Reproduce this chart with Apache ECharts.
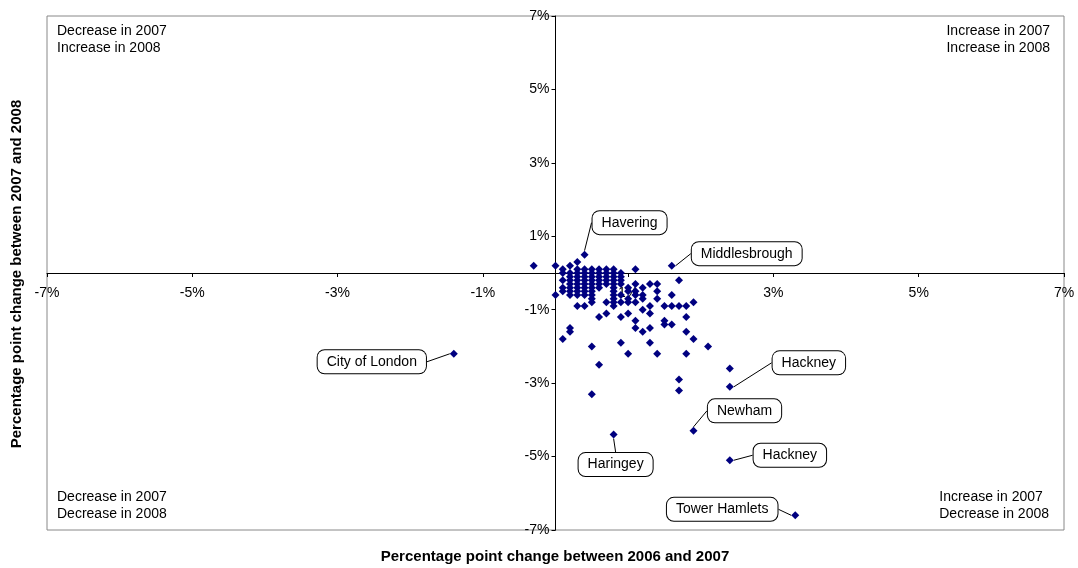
<!DOCTYPE html>
<html>
<head>
<meta charset="utf-8">
<script src="https://cdn.jsdelivr.net/npm/echarts@6/dist/echarts.min.js"></script>
<style>
html,body{margin:0;padding:0;background:#fff;}
#chart{width:1078px;height:568px;}
</style>
</head>
<body>
<div id="chart"></div>
<script>
// change 2006->2007 (x) and 2007->2008 (y), percentage points
var xVals = [
  0.3,
  -0.3, 0.0, 0.2,
  0.1, 0.3, 0.4, 0.5, 0.6, 0.7, 0.8, 1.1,
  0.1, 0.2, 0.3, 0.4, 0.5, 0.6, 0.7, 0.8, 0.9,
  0.2, 0.3, 0.4, 0.5, 0.6, 0.7, 0.8, 0.9,
  0.1, 0.2, 0.3, 0.4, 0.5, 0.6, 0.7, 0.8, 0.9, 1.7,
  0.2, 0.3, 0.4, 0.5, 0.6, 0.7, 0.8, 0.9, 1.1, 1.3, 1.4,
  0.1, 0.2, 0.3, 0.4, 0.5, 0.6, 0.8, 1.0, 1.2,
  0.1, 0.2, 0.3, 0.4, 0.5, 0.8, 1.0, 1.1, 1.4,
  0.0, 0.2, 0.3, 0.4, 0.5, 0.8, 0.9, 1.1, 1.2, 1.6,
  0.5, 0.8, 1.0, 1.2, 1.4,
  0.5, 0.7, 0.8, 0.9, 1.0, 1.1, 1.9,
  0.3, 0.4, 0.8, 1.3, 1.5, 1.6, 1.7, 1.8,
  1.2,
  0.7, 1.0, 1.3,
  0.6, 0.9, 1.8,
  1.1, 1.5,
  1.5, 1.6,
  0.2, 1.1, 1.3,
  0.2, 1.2, 1.8,
  0.1, 1.9,
  0.9, 1.3,
  0.5, 2.1,
  1.0, 1.4, 1.8,
  0.6, 2.4, 1.7, 1.7, 0.5
];
var yVals = [
  0.3,
  0.2, 0.2, 0.2,
  0.1, 0.1, 0.1, 0.1, 0.1, 0.1, 0.1, 0.1,
  0.0, 0.0, 0.0, 0.0, 0.0, 0.0, 0.0, 0.0, 0.0,
  -0.1, -0.1, -0.1, -0.1, -0.1, -0.1, -0.1, -0.1,
  -0.2, -0.2, -0.2, -0.2, -0.2, -0.2, -0.2, -0.2, -0.2, -0.2,
  -0.3, -0.3, -0.3, -0.3, -0.3, -0.3, -0.3, -0.3, -0.3, -0.3, -0.3,
  -0.4, -0.4, -0.4, -0.4, -0.4, -0.4, -0.4, -0.4, -0.4,
  -0.5, -0.5, -0.5, -0.5, -0.5, -0.5, -0.5, -0.5, -0.5,
  -0.6, -0.6, -0.6, -0.6, -0.6, -0.6, -0.6, -0.6, -0.6, -0.6,
  -0.7, -0.7, -0.7, -0.7, -0.7,
  -0.8, -0.8, -0.8, -0.8, -0.8, -0.8, -0.8,
  -0.9, -0.9, -0.9, -0.9, -0.9, -0.9, -0.9, -0.9,
  -1.0,
  -1.1, -1.1, -1.1,
  -1.2, -1.2, -1.2,
  -1.3, -1.3,
  -1.4, -1.4,
  -1.5, -1.5, -1.5,
  -1.6, -1.6, -1.6,
  -1.8, -1.8,
  -1.9, -1.9,
  -2.0, -2.0,
  -2.2, -2.2, -2.2,
  -2.5, -2.6, -2.9, -3.2, -3.3
];
// named local authorities
var calloutNames = ['Havering', 'Middlesbrough', 'City of London', 'Hackney', 'Newham', 'Haringey', 'Hackney', 'Tower Hamlets'];
var calloutX = [0.4, 1.6, -1.4, 2.4, 1.9, 0.8, 2.4, 3.3];
var calloutY = [0.5, 0.2, -2.2, -3.1, -4.3, -4.4, -5.1, -6.6];
var tickLabels = ['-7%', '-5%', '-3%', '-1%', '1%', '3%', '5%', '7%'];
var quadrantText = [
  'Decrease in 2007\nIncrease in 2008',
  'Increase in 2007\nIncrease in 2008',
  'Decrease in 2007\nDecrease in 2008',
  'Increase in 2007\nDecrease in 2008'
];

// callout box offsets in px, same order as calloutNames (style only)
var calloutOffset = [[45, -32], [75, -12], [-82, 8], [79, -24], [51, -20], [2, 30], [60, -5], [-73, -6]];

var font = 'Liberation Sans, Arial, sans-serif';
var W = 1078, H = 568;
var gridL = 47, gridR = 14, gridT = 16, gridB = 38;
var myChart = echarts.init(document.getElementById('chart'));

var points = xVals.map(function (x, i) { return [x, yVals[i]]; });
var named = calloutX.map(function (x, i) { return { name: calloutNames[i], value: [x, calloutY[i]] }; });

function tickText(v) {
  var s = Math.round(v) + '%';
  return tickLabels.indexOf(s) >= 0 ? s : '';
}

// axes cross at zero: shift them from the grid edge to the middle
var gridW = W - gridL - gridR, gridH = H - gridT - gridB;

var markStyle = { color: '#000080', opacity: 1 };

var option = {
  backgroundColor: '#fff',
  animation: false,
  grid: {
    left: gridL, right: gridR, top: gridT, bottom: gridB,
    show: true, borderColor: '#888', borderWidth: 1
  },
  xAxis: {
    type: 'value', min: -7, max: 7, interval: 2,
    position: 'bottom', offset: -gridH / 2,
    axisLine: { onZero: false, lineStyle: { color: '#000', width: 1 } },
    axisTick: { show: true, length: 4, lineStyle: { color: '#000' } },
    axisLabel: { formatter: tickText, color: '#000', fontSize: 14, fontFamily: font, margin: 13, showMinLabel: true, showMaxLabel: true },
    splitLine: { show: false }
  },
  yAxis: {
    type: 'value', min: -7, max: 7, interval: 2,
    position: 'left', offset: -gridW / 2,
    axisLine: { onZero: false, lineStyle: { color: '#000', width: 1 } },
    axisTick: { show: true, length: 4, lineStyle: { color: '#000' } },
    axisLabel: { formatter: tickText, color: '#000', fontSize: 14, fontFamily: font, margin: 6, showMinLabel: true, showMaxLabel: true },
    splitLine: { show: false }
  },
  series: [{
    type: 'scatter',
    symbol: 'diamond',
    symbolSize: 8,
    itemStyle: markStyle,
    data: points,
    z: 5
  }, {
    type: 'scatter',
    symbol: 'diamond',
    symbolSize: 8,
    itemStyle: markStyle,
    label: {
      show: true,
      position: 'inside',
      formatter: '{b}',
      color: '#000',
      fontSize: 14,
      fontFamily: font,
      backgroundColor: '#fff',
      borderColor: '#000',
      borderWidth: 1,
      borderRadius: 7,
      padding: [5, 9, 4, 9]
    },
    labelLine: { show: true, lineStyle: { color: '#000', width: 1 } },
    labelLayout: function (params) {
      var off = calloutOffset[params.dataIndex];
      return { dx: off[0], dy: off[1], hideOverlap: false };
    },
    data: named,
    z: 6
  }],
  graphic: [
    { type: 'text', left: 57, top: 23, style: { text: quadrantText[0], font: '14px ' + font, fill: '#000', lineHeight: 17 } },
    { type: 'text', right: 28, top: 23, style: { text: quadrantText[1], font: '14px ' + font, fill: '#000', lineHeight: 17, align: 'right' } },
    { type: 'text', left: 57, top: 489, style: { text: quadrantText[2], font: '14px ' + font, fill: '#000', lineHeight: 17 } },
    { type: 'text', right: 29, top: 489, style: { text: quadrantText[3], font: '14px ' + font, fill: '#000', lineHeight: 17, align: 'right' } },
    { type: 'text', x: 555, y: 557, style: { text: 'Percentage point change between 2006 and 2007', font: 'bold 15px ' + font, fill: '#000', align: 'center', verticalAlign: 'middle' } },
    { type: 'text', x: 17, y: 274, rotation: Math.PI / 2, style: { text: 'Percentage point change between 2007 and 2008', font: 'bold 15px ' + font, fill: '#000', align: 'center', verticalAlign: 'middle' } }
  ]
};
myChart.setOption(option);
window.addEventListener('resize', function () {
  myChart.resize();
});
</script>
</body>
</html>
